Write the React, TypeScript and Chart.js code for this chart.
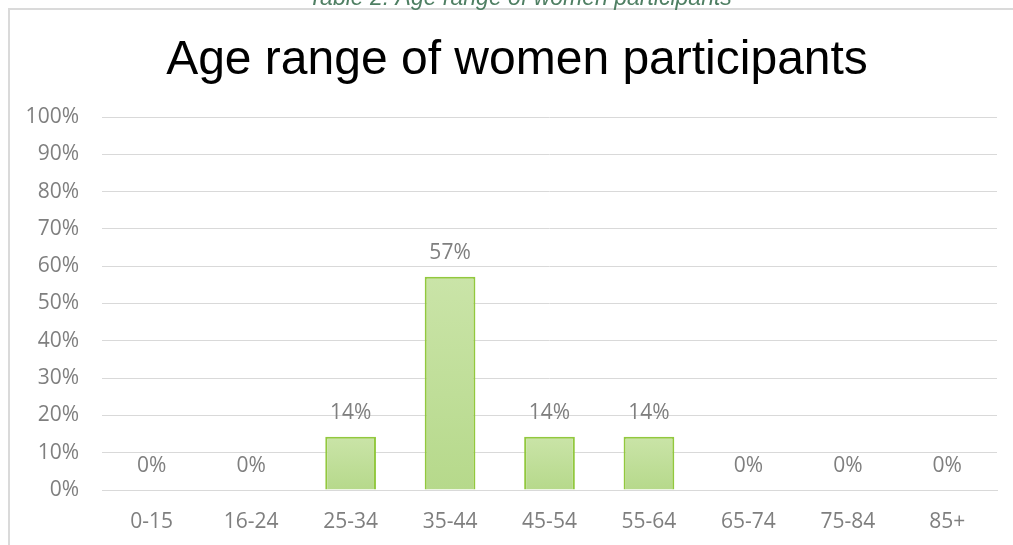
import React, { useEffect, useRef } from "react";
import { Chart, registerables } from "chart.js";

Chart.register(...registerables);

const caption = "Table 2: Age range of women participants";
const title = "Age range of women participants";
const categories = ["0-15", "16-24", "25-34", "35-44", "45-54", "55-64", "65-74", "75-84", "85+"];
const shares = [0, 0, 14.29, 57.14, 14.29, 14.29, 0, 0, 0];
const yTicks = [0, 10, 20, 30, 40, 50, 60, 70, 80, 90, 100];

const GRID = "#d9d9d9";
const TEXT_GRAY = "#7f7f7f";
const BAR_TOP = "#cae4a8";
const BAR_BOTTOM = "#b6d98b";
const BAR_EDGE = "#92c83e";
const TICK_FONT = { family: "'Open Sans', sans-serif", size: 21 };

const framePlugin = {
  id: "frame",
  beforeDraw(chart: any) {
    const ctx = chart.ctx;
    ctx.save();
    ctx.strokeStyle = "#dadada";
    ctx.lineWidth = 2;
    ctx.beginPath();
    ctx.moveTo(9, 545);
    ctx.lineTo(9, 9);
    ctx.lineTo(1013, 9);
    ctx.stroke();

    ctx.fillStyle = "#4f7f63";
    ctx.font = "italic 23px 'Liberation Sans', Arial, sans-serif";
    ctx.textAlign = "center";
    ctx.textBaseline = "alphabetic";
    ctx.fillText(caption, 520, 5);

    ctx.fillStyle = "#000000";
    ctx.font = "48px 'Liberation Sans', Arial, sans-serif";
    ctx.fillText(title, 517, 74);
    ctx.restore();
  },
};

const valueLabelPlugin = {
  id: "valueLabels",
  afterDatasetsDraw(chart: any) {
    const ctx = chart.ctx;
    const meta = chart.getDatasetMeta(0);
    ctx.save();
    ctx.fillStyle = TEXT_GRAY;
    ctx.font = "21px 'Open Sans', sans-serif";
    ctx.textAlign = "center";
    ctx.textBaseline = "middle";
    meta.data.forEach((bar: any, i: number) => {
      const v = shares[i];
      ctx.fillText(Math.round(v) + "%", bar.x, bar.y - 24);
    });
    ctx.restore();
  },
};

export default function App() {
  const ref = useRef<HTMLCanvasElement>(null);
  useEffect(() => {
    if (!ref.current) return;
    const chart = new Chart(ref.current, {
      type: "bar",
      data: {
        labels: categories,
        datasets: [
          {
            data: shares,
            backgroundColor: (c: any) => {
              const ch = c.chart;
              const y = ch.scales && ch.scales.y;
              if (!y || c.dataIndex === undefined) return BAR_TOP;
              const top = y.getPixelForValue(shares[c.dataIndex]);
              const bottom = y.getPixelForValue(0);
              if (!isFinite(top) || !isFinite(bottom) || top === bottom) return BAR_TOP;
              const g = ch.ctx.createLinearGradient(0, top, 0, bottom);
              g.addColorStop(0, BAR_TOP);
              g.addColorStop(1, BAR_BOTTOM);
              return g;
            },
            borderColor: BAR_EDGE,
            borderWidth: 2,
            borderSkipped: "bottom",
            barPercentage: 0.51,
            categoryPercentage: 1,
          },
        ],
      },
      options: {
        animation: false,
        responsive: false,
        devicePixelRatio: 1,
        layout: { padding: { top: 117, right: 16, bottom: 0, left: 0 } },
        plugins: {
          legend: { display: false },
          tooltip: { enabled: false },
          title: { display: false },
        },
        scales: {
          x: {
            grid: { display: false, drawTicks: false },
            border: { display: true, color: GRID, width: 1 },
            ticks: { color: TEXT_GRAY, font: TICK_FONT, padding: 19 },
            afterFit: (s: any) => {
              s.height = 55;
            },
          },
          y: {
            min: 0,
            max: 100,
            afterBuildTicks: (s: any) => {
              s.ticks = yTicks.map((v) => ({ value: v }));
            },
            grid: { color: GRID, lineWidth: 1, drawTicks: false },
            border: { display: false },
            ticks: {
              color: TEXT_GRAY,
              font: TICK_FONT,
              padding: 23,
              callback: (v: any) => v + "%",
            },
            afterFit: (s: any) => {
              s.width = 102;
            },
          },
        },
      },
      plugins: [framePlugin, valueLabelPlugin],
    });
    return () => chart.destroy();
  }, []);
  return (
    <canvas
      ref={ref}
      width={1013}
      height={545}
      style={{ position: "fixed", left: 0, top: 0, width: 1013, height: 545, display: "block" }}
    />
  );
}
